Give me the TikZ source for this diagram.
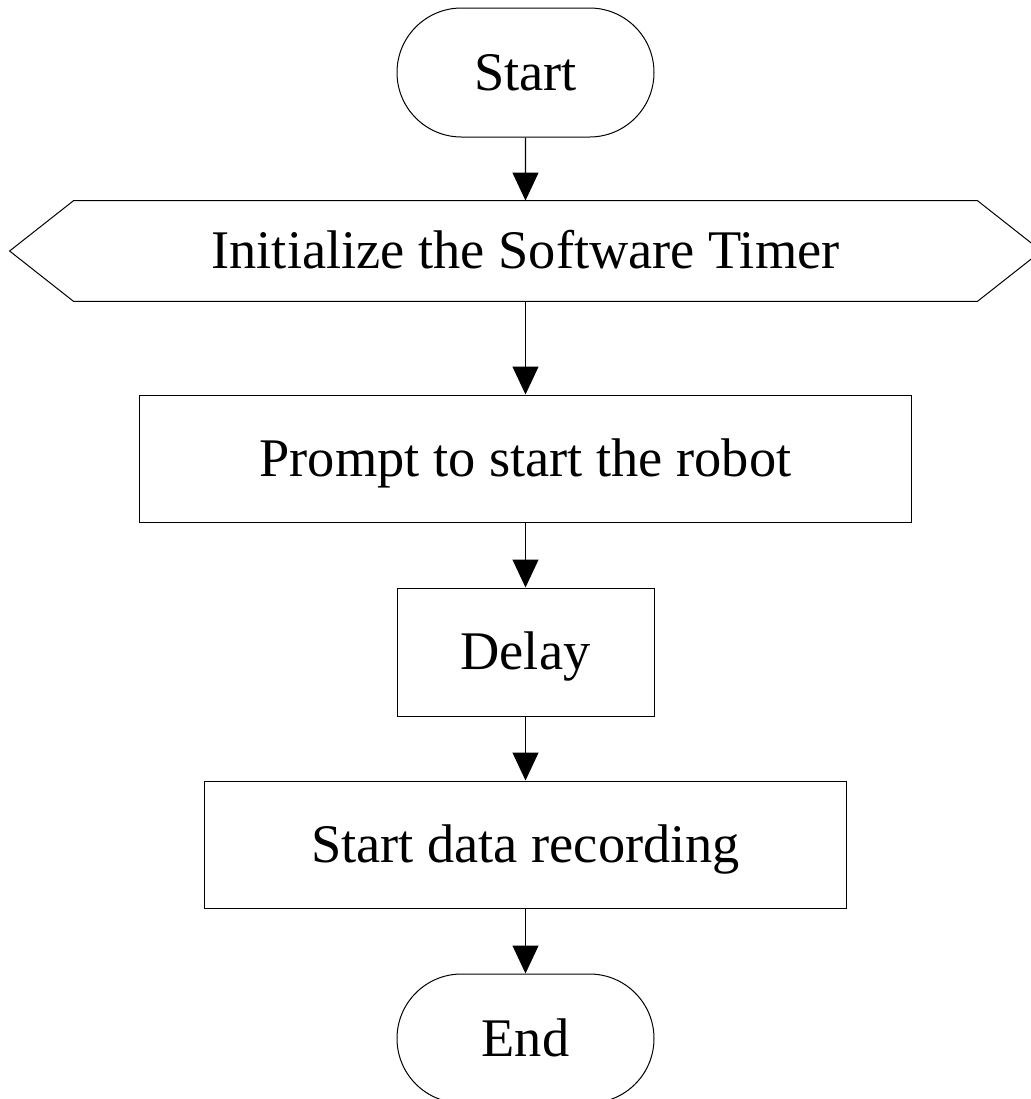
\documentclass[tikz,border=0pt]{standalone}
\usepackage{fontspec}
\setmainfont{Liberation Serif}
\usetikzlibrary{arrows.meta, shapes.misc, calc}

\begin{document}
\begin{tikzpicture}[x=0.5pt, y=-0.5pt,
	every node/.style={text height=17.8pt, text depth=0pt},
	terminal/.style={draw, rounded rectangle, minimum width=128.5pt, minimum height=64.5pt, inner sep=0pt, line width=0.5pt},
	process/.style={draw, rectangle, minimum height=63.5pt, inner sep=0pt, line width=0.5pt},
	flow/.style={-{Triangle[width=13pt, length=14pt]}, line width=0.6pt},
	font=\fontsize{27.2}{33}\selectfont]
	\useasboundingbox (0, 0) rectangle (1030, 1099);

	\node[terminal] (start) at (525.5, 72.5) {Start};
	\node[minimum width=451.5pt, minimum height=50pt, inner sep=0pt] (init) at (525.5, 251) {Initialize the Software Timer};
	\draw[line width=0.5pt] (init.north west) -- (init.north east) -- ($(init.east) + (64, 0)$)
		-- (init.south east) -- (init.south west) -- ($(init.west) + (-64, 0)$) -- cycle;
	\node[process, minimum width=386pt] (prompt) at (525.5, 458.5) {Prompt to start the robot};
	\node[process, minimum width=128.5pt, minimum height=64pt] (delay) at (525.5, 652) {Delay};
	\node[process, minimum width=321pt] (rec) at (525.5, 844.5) {Start data recording};
	\node[terminal] (end) at (525.5, 1038.5) {End};

	\draw[flow] (start) -- (init);
	\draw[flow] (init) -- (prompt);
	\draw[flow] (prompt) -- (delay);
	\draw[flow] (delay) -- (rec);
	\draw[flow] (rec) -- (end);
\end{tikzpicture}
\end{document}
